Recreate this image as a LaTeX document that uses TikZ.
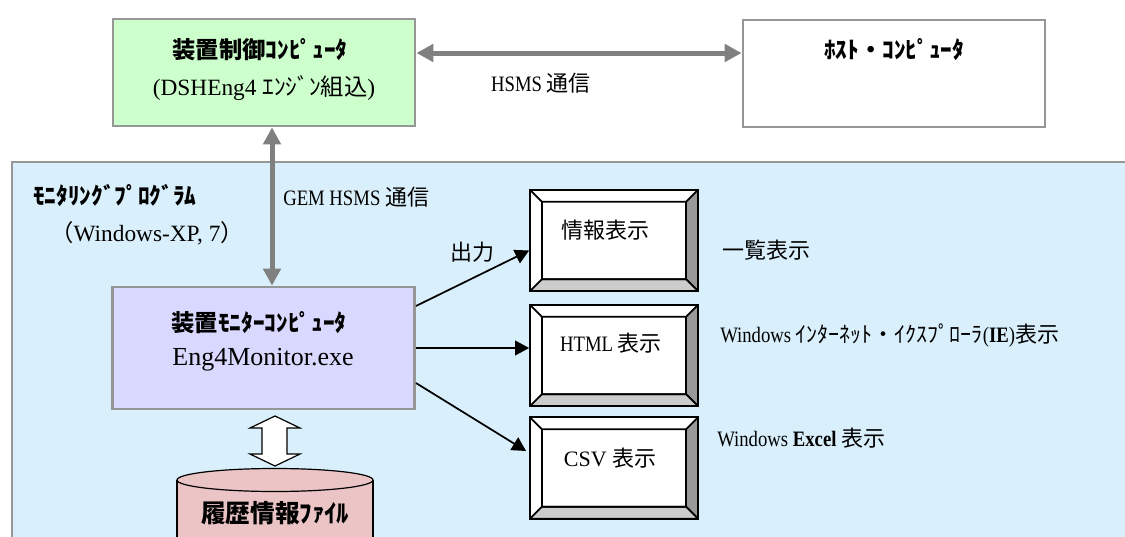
\documentclass[tikz,border=0pt]{standalone}
\usepackage{fontspec}
\setmainfont{Liberation Serif}
\newfontfamily\hw[FakeStretch=0.85]{Liberation Serif}
\newfontfamily\jp{Noto Sans CJK JP}
\usetikzlibrary{arrows.meta,calc}

\definecolor{panelblue}{RGB}{217,239,252}
\definecolor{ctrlgreen}{RGB}{204,255,204}
\definecolor{monviolet}{RGB}{217,217,255}
\definecolor{dbpink}{RGB}{235,197,197}
\definecolor{framegray}{RGB}{150,150,150}
\definecolor{linkgray}{RGB}{128,128,128}
\definecolor{bevlight}{RGB}{204,204,204}
\definecolor{bevdark}{RGB}{153,153,153}

\begin{document}
\begin{tikzpicture}[x=0.75pt,y=-0.75pt,
  frame/.style={draw=framegray,line width=2.2pt},
  pc/.style={frame,minimum width=226.5pt,minimum height=80.25pt},
  btn/.style={draw,line width=1.3pt,fill=white,minimum width=126pt,minimum height=76pt,inner sep=0pt,
    path picture={
      \coordinate (a) at (path picture bounding box.north west);
      \coordinate (b) at (path picture bounding box.north east);
      \coordinate (c) at (path picture bounding box.south east);
      \coordinate (d) at (path picture bounding box.south west);
      \draw[line width=1.3pt,fill=bevdark] (b) -- (c) -- ($(c)+(-12,-12)$) -- ($(b)+(-12,12)$) -- cycle;
      \draw[line width=1.3pt,fill=bevlight] (c) -- (d) -- ($(d)+(12,-12)$) -- ($(c)+(-12,-12)$) -- cycle;
      \draw[line width=1.3pt] (a) -- ($(a)+(12,12)$) rectangle ($(c)+(-12,-12)$);
    }},
  link/.style={linkgray,line width=3.75pt,{Triangle[length=12.75pt,width=13pt]}-{Triangle[length=12.75pt,width=13pt]}},
  feed/.style={black,line width=1.3pt,-{Triangle[length=10.5pt,width=11pt]}},
  txt/.style={font=\fontsize{16.5}{20}\selectfont,inner sep=0pt},
  ttl/.style={font=\jp\bfseries\fontsize{17.5}{21}\selectfont,inner sep=0pt}]
  \useasboundingbox (0,0) rectangle (1125,536);
  \clip (0,0) rectangle (1125,536);

  \draw[frame,fill=panelblue] (12,162) rectangle (1140,550);

  \node[pc,fill=ctrlgreen] (ctrl) at (264,72.5) {};
  \node[ttl] (ctrlname) at (260,50) {装置制御ｺﾝﾋﾟｭｰﾀ};
  \node[txt,font=\fontsize{17.5}{21}\selectfont] (ctrlsub) at (264,88) {(DSHEng4 {\jp ｴﾝｼﾞﾝ組込})};
  \node[pc,fill=white] (host) at (894,73.5) {};
  \node[ttl] (hostname) at (894,50) {ﾎｽﾄ・ｺﾝﾋﾟｭｰﾀ};
  \node[txt] (hsms) at (541,83) {\hw HSMS {\jp 通信}};

  \node[ttl,anchor=west] (prog) at (33,195) {ﾓﾆﾀﾘﾝｸﾞﾌﾟﾛｸﾞﾗﾑ};
  \node[txt,anchor=west,font=\fontsize{17.5}{21}\selectfont] (os) at (50,233) {{\jp （}Windows-XP, 7{\jp ）}};
  \node[txt,anchor=west] (gem) at (283,197) {\hw GEM HSMS {\jp 通信}};

  \node[pc,fill=monviolet,minimum height=91.5pt] (mon) at (263.5,348) {};
  \node[ttl] (monname) at (259,323) {装置ﾓﾆﾀｰｺﾝﾋﾟｭｰﾀ};
  \node[txt,font=\fontsize{19.5}{23}\selectfont] (monexe) at (263,360) {Eng4Monitor.exe};

  \node[btn] (info) at (614,240.5) {};
  \node[txt] (infoname) at (605,230) {\jp 情報表示};
  \node[btn] (html) at (614,355.5) {};
  \node[txt] (htmlname) at (611,343) {\hw HTML {\jp 表示}};
  \node[btn] (csv) at (614,468) {};
  \node[txt] (csvname) at (610,458) {CSV {\jp 表示}};

  \node[txt] (outlbl) at (472,252) {\jp 出力};
  \node[txt,anchor=west] (list) at (722,250) {\jp 一覧表示};
  \node[txt,anchor=west] (ie) at (720,335) {\hw Windows {\jp ｲﾝﾀｰﾈｯﾄ・ｲｸｽﾌﾟﾛｰﾗ}(\textbf{IE}){\jp 表示}};
  \node[txt,anchor=west] (xl) at (717,438) {\hw Windows \textbf{Excel} {\jp 表示}};

  \fill[dbpink] (177,480) rectangle (373,550);
  \draw[line width=0.9pt] (177,480) -- (177,550) (373,480) -- (373,550);
  \draw[line width=0.9pt,fill=dbpink] (275,480) ellipse [x radius=98,y radius=11.5];
  \node[ttl,font=\jp\bfseries\fontsize{18.5}{22}\selectfont] (db) at (275,513) {履歴情報ﾌｧｲﾙ};

  \draw[line width=0.9pt,fill=white] (275,416) -- (300,428) -- (287,428) -- (287,454) -- (300,454)
    -- (275,466) -- (250,454) -- (262,454) -- (262,428) -- (250,428) -- cycle;

  \coordinate (h1) at ($(ctrl.east)+(0,-19.5)$);
  \draw[link] (h1) -- (h1 -| host.west);
  \coordinate (v1) at ($(ctrl.south)+(8,0)$);
  \draw[link] (v1) -- (v1 |- mon.north);

  \draw[feed] ($(mon.east)+(0,-42)$) -- ($(info.west)+(0,10)$);
  \draw[feed] (mon.east) -- (mon.east -| html.west);
  \draw[feed] ($(mon.east)+(0,35)$) -- ($(csv.west)+(-3,-17)$);
\end{tikzpicture}
\end{document}
